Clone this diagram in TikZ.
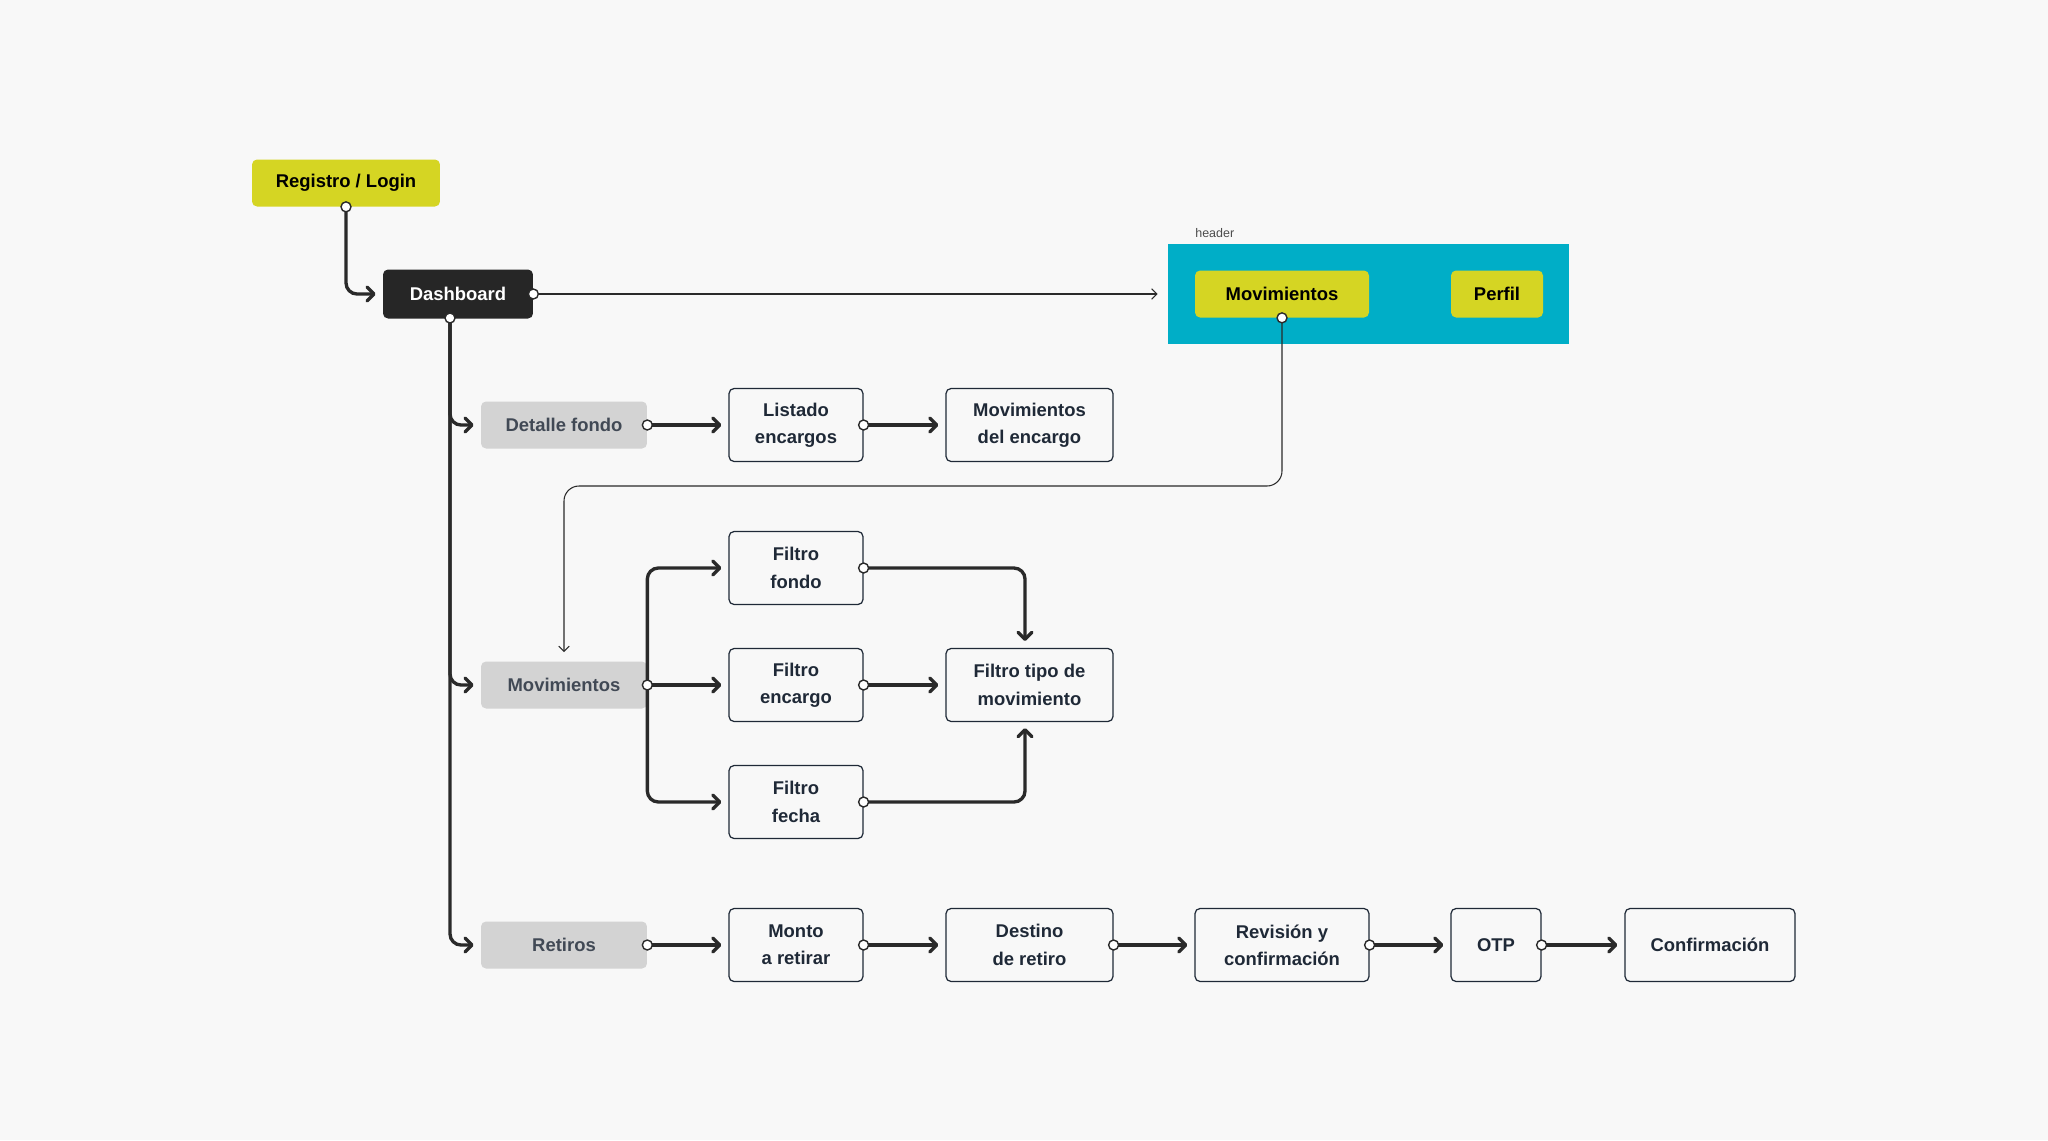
\documentclass[tikz,border=0pt]{standalone}
\usepackage{fontspec}
\setmainfont{Liberation Sans}
\usepackage{xcolor}
\usetikzlibrary{arrows.meta}

\definecolor{bgcol}{HTML}{F8F8F8}
\definecolor{lime}{HTML}{D5D523}
\definecolor{hdrcyan}{HTML}{00AEC7}
\definecolor{darkbox}{HTML}{262626}
\definecolor{greybox}{HTML}{D3D3D3}
\definecolor{ink}{HTML}{1F2937}
\definecolor{wire}{HTML}{2A2A2A}

\tikzset{
  boxbase/.style={rounded corners=0.1cm, inner sep=0pt, align=center,
    font=\fontsize{10.5}{15.5}\selectfont\bfseries},
  limebox/.style={boxbase, fill=lime, text=black, minimum height=0.94cm},
  darkbox/.style={boxbase, fill=darkbox, text=white, minimum width=3cm, minimum height=0.98cm},
  greybox/.style={boxbase, fill=greybox, text=ink!85, minimum width=3.32cm, minimum height=0.94cm},
  stepbox/.style={boxbase, draw=ink, line width=0.7pt, fill=bgcol, text=ink, minimum height=1.46cm},
  flow/.style={draw=wire, line width=1.9pt, rounded corners=0.22cm,
    -{Straight Barb[length=4pt,width=8pt,line join=round,line cap=round]}, shorten >=0.14cm},
  thinflow/.style={draw=wire, line width=0.6pt, rounded corners=0.3cm,
    -{Straight Barb[length=3pt,width=6pt]}, shorten >=0.2cm},
  port/.style={draw=wire, fill=white, line width=0.8pt}
}

\begin{document}
\begin{tikzpicture}[x=0.02cm,y=-0.02cm]
% background and page size
\fill[bgcol] (0,0) rectangle (2048,1140);

% header bar
\node[fill=hdrcyan, minimum width=8.02cm, minimum height=2cm, inner sep=0pt] (hdr) at (1368.5,294) {};
\node[anchor=base west, inner sep=0pt, text=black!70, font=\fontsize{7.1}{8}\selectfont] (hdrlbl) at (1195,237) {header};
\node[limebox, minimum width=3.48cm] (hmov) at (1282,294) {Movimientos};
\node[limebox, minimum width=1.84cm] (perfil) at (1497,294) {Perfil};

% entry
\node[limebox, minimum width=3.76cm] (reg) at (346,183) {Registro / Login};
\node[darkbox] (dash) at (458,294) {Dashboard};
\coordinate (dashout) at (450,318);

% first column
\node[greybox] (det) at (564,425) {Detalle fondo};
\node[greybox] (mov) at (564,685) {Movimientos};
\node[greybox] (ret) at (564,945) {Retiros};

% detalle fondo row
\node[stepbox, minimum width=2.68cm] (list) at (796,425) {Listado\\encargos};
\node[stepbox, minimum width=3.34cm] (movenc) at (1029.5,425) {Movimientos\\del encargo};

% filters
\node[stepbox, minimum width=2.68cm] (ffondo) at (796,568) {Filtro\\fondo};
\node[stepbox, minimum width=2.68cm] (fenc) at (796,685) {Filtro\\encargo};
\node[stepbox, minimum width=2.68cm] (ffecha) at (796,802) {Filtro\\fecha};
\node[stepbox, minimum width=3.34cm] (ftipo) at (1029.5,685) {Filtro tipo de\\movimiento};
\coordinate (tipoin) at (1025,648);
\coordinate (tipoout) at (1025,721);

% retiros row
\node[stepbox, minimum width=2.68cm] (monto) at (796,945) {Monto\\a retirar};
\node[stepbox, minimum width=3.34cm] (dest) at (1029.5,945) {Destino\\de retiro};
\node[stepbox, minimum width=3.48cm] (rev) at (1282,945) {Revisión y\\confirmación};
\node[stepbox, minimum width=1.8cm] (otp) at (1496,945) {OTP};
\node[stepbox, minimum width=3.4cm] (conf) at (1710,945) {Confirmación};

% connectors
\draw[flow] (reg.south) |- (dash.west);
\draw[thinflow] (dash.east) -- (hdr.west);
\draw[flow] (dashout) |- (det.west);
\draw[flow] (dashout) |- (mov.west);
\draw[flow] (dashout) |- (ret.west);

\coordinate (hbend) at (1282,486);
\draw[thinflow, shorten >=0.18cm] (hmov.south) -- (hbend) -| (mov.north);

\draw[flow] (det.east) -- (list.west);
\draw[flow] (list.east) -- (movenc.west);

\draw[flow] (mov.east) |- (ffondo.west);
\draw[flow] (mov.east) -- (fenc.west);
\draw[flow] (mov.east) |- (ffecha.west);
\draw[flow] (ffondo.east) -| (tipoin);
\draw[flow] (fenc.east) -- (ftipo.west);
\draw[flow] (ffecha.east) -| (tipoout);

\foreach \a/\b in {ret/monto, monto/dest, dest/rev, rev/otp, otp/conf}
  \draw[flow] (\a.east) -- (\b.west);

% ports
\foreach \p in {reg.south, dash.east, dashout, hmov.south, det.east, list.east,
  mov.east, ffondo.east, fenc.east, ffecha.east, ret.east, monto.east, dest.east, rev.east, otp.east}
  \draw[port] (\p) circle (0.1cm);

\end{tikzpicture}
\end{document}
